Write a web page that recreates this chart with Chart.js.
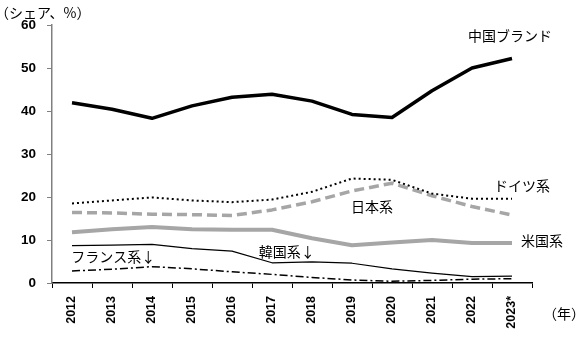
<!DOCTYPE html>
<html>
<head>
<meta charset="utf-8">
<script src="https://cdn.jsdelivr.net/npm/chart.js@4/dist/chart.umd.min.js"></script>
<style>
  html, body { margin: 0; padding: 0; background: #fff; }
  #wrap { position: relative; width: 586px; height: 337px; }
</style>
</head>
<body>
<div id="wrap"><canvas id="chart"></canvas></div>
<script>
const years = ["2012", "2013", "2014", "2015", "2016", "2017", "2018", "2019", "2020", "2021", "2022", "2023*"];
const china = [41.9, 40.4, 38.3, 41.2, 43.2, 43.9, 42.3, 39.2, 38.5, 44.7, 50.0, 52.2];
const germany = [18.5, 19.2, 19.9, 19.2, 18.8, 19.4, 21.2, 24.3, 24.0, 20.8, 19.6, 19.6];
const japan = [16.4, 16.3, 16.0, 15.9, 15.7, 17.0, 18.9, 21.4, 23.2, 20.3, 17.8, 15.8];
const usa = [11.8, 12.5, 13.0, 12.5, 12.4, 12.4, 10.4, 8.8, 9.4, 10.0, 9.3, 9.3];
const korea = [8.7, 8.8, 9.0, 8.0, 7.4, 4.7, 4.9, 4.6, 3.3, 2.3, 1.5, 1.6];
const france = [2.8, 3.2, 3.8, 3.3, 2.6, 2.0, 1.3, 0.7, 0.4, 0.6, 0.9, 1.0];

const yTicks = [0, 10, 20, 30, 40, 50, 60];

// series labels placed in data coordinates (category index, value)
const seriesLabels = [
  { text: "中国ブランド", x: 10.95, y: 57.5 },
  { text: "ドイツ系", x: 11.25, y: 22.7 },
  { text: "日本系", x: 7.5, y: 17.7 },
  { text: "米国系", x: 11.75, y: 9.8 },
  { text: "韓国系↓", x: 5.37, y: 7.2 },
  { text: "フランス系↓", x: 1.03, y: 6.2 }
];

const JP = "'Noto Sans CJK JP', 'Liberation Sans', sans-serif";
const NUM = "'Liberation Sans', Arial, sans-serif";

const labelPlugin = {
  id: "seriesLabels",
  afterDatasetsDraw(chart) {
    const { ctx, scales } = chart;
    ctx.save();
    ctx.fillStyle = "#000";
    ctx.font = "14px " + JP;
    ctx.textBaseline = "middle";
    ctx.textAlign = "center";
    seriesLabels.forEach((l) => {
      ctx.fillText(l.text, scales.x.getPixelForValue(l.x), scales.y.getPixelForValue(l.y));
    });
    // unit captions
    ctx.textAlign = "left";
    ctx.fillText("（シェア、%）", -5, 13);
    ctx.fillText("（年）", scales.x.right + 11, 314);
    ctx.restore();
  }
};

function line(data, color, width, dash) {
  return {
    data,
    borderColor: color,
    borderWidth: width,
    borderDash: dash || [],
    borderCapStyle: "butt",
    borderJoinStyle: "round",
    pointRadius: 0,
    tension: 0,
    fill: false
  };
}

new Chart(document.getElementById("chart"), {
  type: "line",
  data: {
    labels: years,
    datasets: [
      line(china, "#000", 3.5),
      line(germany, "#000", 2, [2, 3]),
      line(japan, "#a6a6a6", 3.5, [10, 5]),
      line(usa, "#a6a6a6", 4),
      line(korea, "#000", 1.2),
      line(france, "#000", 1.5, [8, 3, 2, 3])
    ]
  },
  options: {
    responsive: true,
    maintainAspectRatio: false,
    animation: false,
    layout: { padding: { top: 25, right: 54, left: 0, bottom: 0 } },
    plugins: { legend: { display: false }, tooltip: { enabled: false } },
    scales: {
      x: {
        offset: true,
        grid: { offset: true, drawOnChartArea: false, drawTicks: true, tickLength: 5, color: "#000" },
        border: { display: true, color: "#000", width: 1.5 },
        ticks: {
          color: "#000",
          minRotation: 90,
          maxRotation: 90,
          padding: 8,
          font: { size: 12.5, weight: "bold", family: NUM }
        },
        afterFit(axis) { axis.height = 54; }
      },
      y: {
        min: 0,
        max: 60,
        grid: { drawOnChartArea: false, drawTicks: true, tickLength: 5, color: "#808080" },
        border: { display: true, color: "#808080", width: 1.5 },
        afterBuildTicks(axis) { axis.ticks = yTicks.map((v) => ({ value: v })); },
        ticks: { color: "#000", padding: 11, font: { size: 13.5, weight: "bold", family: NUM } },
        afterFit(axis) { axis.width = 52; }
      }
    }
  },
  plugins: [labelPlugin]
});
</script>
</body>
</html>
